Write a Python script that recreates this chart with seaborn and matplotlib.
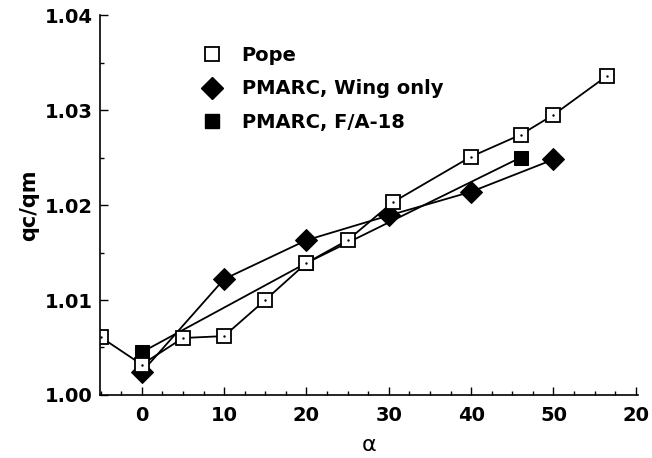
import numpy as np
import pandas as pd
import matplotlib
matplotlib.use("Agg")
import matplotlib.pyplot as plt
from matplotlib.lines import Line2D
from matplotlib.ticker import MultipleLocator
import seaborn as sns

# values
pope_alpha = [-5, 0, 5, 10, 15, 20, 25, 30.5, 40, 46, 50, 56.5]
pope_q = [1.0061, 1.0032, 1.0060, 1.0062, 1.0100, 1.0139, 1.0163, 1.0203,
          1.0251, 1.0274, 1.0295, 1.0336]
wing_alpha = [0, 10, 20, 30, 40, 50]
wing_q = [1.0024, 1.0122, 1.0163, 1.0189, 1.0214, 1.0248]
fa18_alpha = [0, 20, 46]
fa18_q = [1.0045, 1.0139, 1.0250]

x_ticks = [0, 10, 20, 30, 40, 50, 60]
x_ticklabels = ["0", "10", "20", "30", "40", "50", "20"]
y_ticks = [1.00, 1.01, 1.02, 1.03, 1.04]
series_labels = ["Pope", "PMARC, Wing only", "PMARC, F/A-18"]

sns.set_theme(style="ticks", rc={"text.color": "black", "axes.labelcolor": "black",
                                 "xtick.color": "black", "ytick.color": "black"})
plt.rcParams["font.family"] = ["DejaVu Sans"]

fig = plt.figure(figsize=(6.52, 4.58), dpi=100)
ax = fig.add_axes([0.153, 0.1376, 0.826, 0.8294])

pope = pd.DataFrame({"alpha": pope_alpha, "q": pope_q})
wing = pd.DataFrame({"alpha": wing_alpha, "q": wing_q})
fa18 = pd.DataFrame({"alpha": fa18_alpha, "q": fa18_q})

line_kw = dict(color="black", lw=1.3, sort=False, estimator=None)
sns.lineplot(data=fa18, x="alpha", y="q", ax=ax, marker="s", ms=10,
             mfc="black", mec="black", **line_kw)
sns.lineplot(data=wing, x="alpha", y="q", ax=ax, marker="D", ms=11,
             mfc="black", mec="black", **line_kw)
sns.lineplot(data=pope, x="alpha", y="q", ax=ax, marker="s", ms=9.5,
             mfc="white", mec="black", mew=1.3, **line_kw)
# little centre dots of the open squares
sns.scatterplot(data=pope, x="alpha", y="q", ax=ax, marker="o", s=3,
                color="black", linewidth=0, zorder=5)

ax.set_xlim(-5.1, 60.3)
ax.set_ylim(1.0, 1.04)
ax.set_xticks(x_ticks)
ax.set_xticklabels(x_ticklabels)
ax.set_yticks(y_ticks)
ax.set_yticklabels([f"{v:.2f}" for v in y_ticks])
ax.xaxis.set_minor_locator(MultipleLocator(2.5))
ax.yaxis.set_minor_locator(MultipleLocator(0.005))
ax.tick_params(axis="both", which="major", direction="in", length=6,
               width=1, labelsize=14, labelcolor="black")
ax.tick_params(axis="y", which="major", pad=5)
ax.tick_params(axis="x", which="major", pad=8)
ax.tick_params(axis="both", which="minor", direction="in", length=3, width=1)
for lab in ax.get_xticklabels() + ax.get_yticklabels():
    lab.set_fontweight("bold")

sns.despine(ax=ax)
for s in ["left", "bottom"]:
    ax.spines[s].set_color("black")
    ax.spines[s].set_linewidth(1.2)

ax.set_xlabel("α", fontsize=16, labelpad=7)
ax.set_ylabel("qc/qm", fontsize=15, fontweight="bold", labelpad=4)

handles = [
    Line2D([], [], ls="", marker="s", ms=9.5, mfc="white", mec="black", mew=1.3),
    Line2D([], [], ls="", marker="D", ms=11, mfc="black", mec="black"),
    Line2D([], [], ls="", marker="s", ms=9.5, mfc="black", mec="black"),
]
ax.legend(handles, series_labels, loc="upper left", bbox_to_anchor=(0.155, 0.965),
          frameon=False, prop={"weight": "bold", "size": 14},
          handletextpad=0.9, labelspacing=0.75, handlelength=1.2)

fig.savefig("out.png", dpi=100)
